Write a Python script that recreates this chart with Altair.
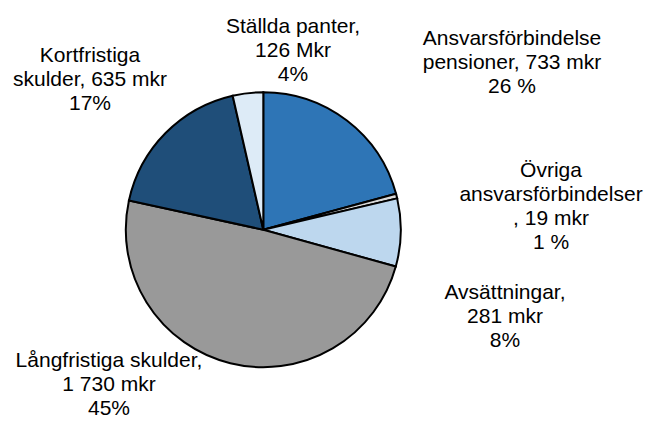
import altair as alt
import pandas as pd

categories = ["Ansvarsförbindelse pensioner", "Övriga ansvarsförbindelser", "Avsättningar",
              "Långfristiga skulder", "Kortfristiga skulder", "Ställda panter"]
values = [733, 19, 281, 1730, 635, 126]
colors = ["#2E75B6", "#D9D9D9", "#BDD7EE", "#999999", "#1F4E79", "#DDEBF7"]
labels = [
    "Ansvarsförbindelse\npensioner, 733 mkr\n26 %",
    "Övriga\nansvarsförbindelser\n, 19 mkr\n1 %",
    "Avsättningar,\n281 mkr\n8%",
    "Långfristiga skulder,\n1 730 mkr\n45%",
    "Kortfristiga\nskulder, 635 mkr\n17%",
    "Ställda panter,\n126 Mkr\n4%",
]
# label anchor positions (pixels in plot area): centre x, first baseline y
label_x = [504, 543, 497, 101, 82, 285]
label_y = [37, 169, 291, 359, 54, 25]

df = pd.DataFrame({"cat": categories, "value": values, "order": list(range(len(values)))})
lab = pd.DataFrame({"label": labels, "lx": label_x, "ly": label_y})

pie = alt.Chart(df).mark_arc(
    outerRadius=137.5, stroke="black", strokeWidth=2, x=255.3, y=221.7
).encode(
    theta=alt.Theta("value:Q", stack=True),
    order=alt.Order("order:Q"),
    color=alt.Color("cat:N", scale=alt.Scale(domain=categories, range=colors), legend=None),
)

text = alt.Chart(lab).mark_text(
    align="center", baseline="alphabetic", font="Liberation Sans", fontSize=21,
    lineHeight=24, lineBreak="\n", color="black"
).encode(
    x=alt.X("lx:Q", scale=None),
    y=alt.Y("ly:Q", scale=None),
    text="label:N",
)

chart = alt.layer(pie, text).properties(
    width=638, height=412, padding=0, autosize="none"
).configure_view(stroke=None)

chart.save("out.html", embed_options={"renderer": "svg", "actions": False})
